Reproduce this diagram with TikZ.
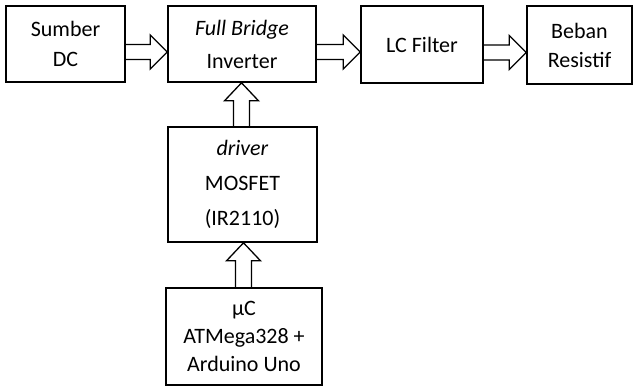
\documentclass[tikz,border=0pt]{standalone}
\usepackage{fontspec}
\setmainfont{Carlito}
\usetikzlibrary{calc}
\begin{document}
\begin{tikzpicture}[x=1pt,y=-1pt,
  box/.style={draw,line width=1.6pt,inner sep=0pt,align=center,
    font=\fontsize{22}{30}\selectfont},
  arr/.style={draw,line width=1.3pt,line join=miter}]
\useasboundingbox (0,0) rectangle (636,389);
\node[box,minimum width=119,minimum height=76] (sd) at (65.5,44) {Sumber\\DC};
\node[box,minimum width=148,minimum height=76,font=\fontsize{22}{33}\selectfont] (fb) at (242,44) {\textit{Full Bridge}\\Inverter};
\node[box,minimum width=122,minimum height=77] (lc) at (422,44.5) {LC Filter};
\node[box,minimum width=105,minimum height=78,font=\fontsize{22}{29}\selectfont] (bb) at (579.5,45) {Beban\\Resistif};
\node[box,minimum width=149,minimum height=115,font=\fontsize{22}{35}\selectfont] (dr) at (242.5,184.5) {\textit{driver}\\MOSFET\\(IR2110)};
\node[box,minimum width=156,minimum height=97,font=\fontsize{22}{28}\selectfont] (uc) at (244,336.5) {µC\\ATMega328 +\\Arduino Uno};
% horizontal block arrows
\foreach \a/\b in {sd/fb,fb/lc,lc/bb}{
  \path[arr] let \p1=(\a.east), \p2=(\b.west) in
    (\x1,\y1-0.5) -- (\x2-17,\y1-0.5) -- (\x2-17,\y1+9) -- (\x2,\y1-8)
    -- (\x2-17,\y1-25) -- (\x2-17,\y1-15.5) -- (\x1,\y1-15.5);
}
% vertical block arrows
\foreach \a/\b/\o in {dr/fb/-1,uc/dr/-0.5}{
  \path[arr] let \p1=(\a.north), \p2=(\b.south) in
    (\x1+\o-8,\y1) -- (\x1+\o-8,\y2-18) -- (\x1+\o-17,\y2-18) -- (\x1+\o,\y2)
    -- (\x1+\o+17,\y2-18) -- (\x1+\o+8,\y2-18) -- (\x1+\o+8,\y1);
}
\end{tikzpicture}
\end{document}
